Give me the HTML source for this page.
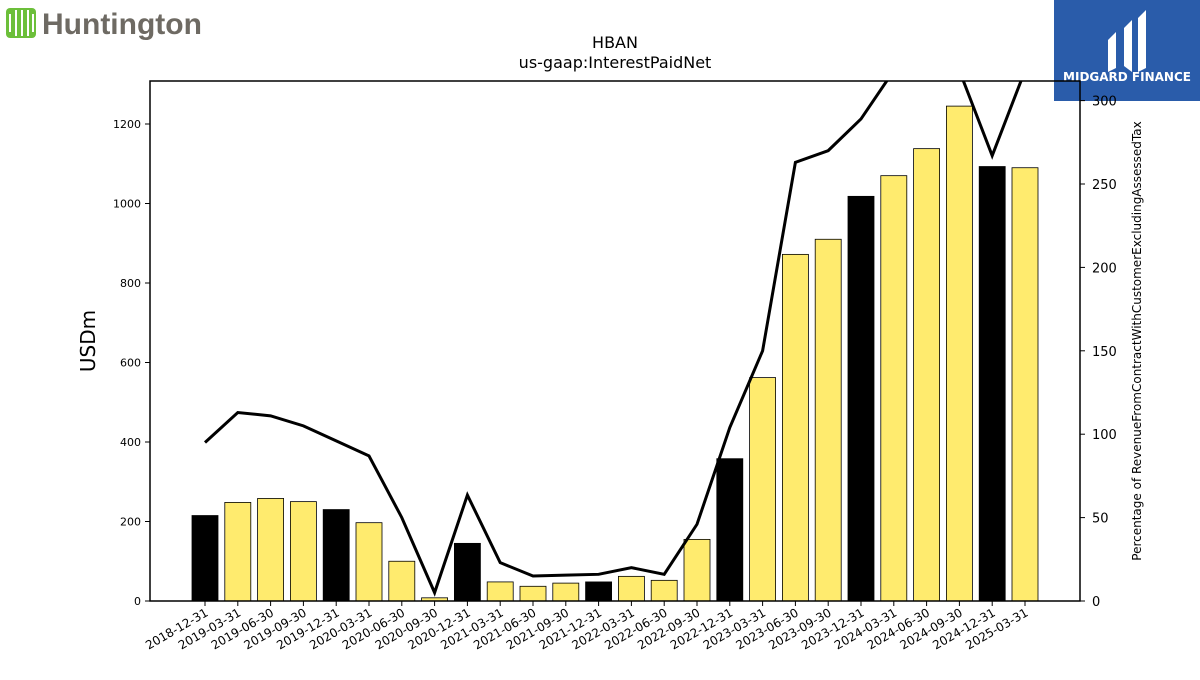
<!DOCTYPE html>
<html><head><meta charset="utf-8"><style>
body{margin:0;background:#fff;font-family:"Liberation Sans","DejaVu Sans",sans-serif}
svg text{font-family:"DejaVu Sans","Liberation Sans",sans-serif}
</style></head><body>
<svg id="c" width="1200" height="675" viewBox="0 0 1200 675" xmlns="http://www.w3.org/2000/svg">
<g>
<rect x="6" y="8" width="30" height="30" fill="#6cbf3a" rx="4"/>
<path d="M10 14v18M16 10v26M22 10v26M28 10v26M33 14v18" stroke="#fff" stroke-width="2"/>
<text x="42" y="34" font-size="30" font-weight="bold" fill="#6e6a63" style="font-family:'Liberation Sans Narrow','Liberation Sans',sans-serif">Huntington</text>
</g>
<g>
<rect x="1054" y="0" width="146" height="101" fill="#2a5caa"/>
<path d="M1108 40l8-8v36l-8 4z M1124 28l8-8v52l-8-6z M1138 18l8-8v58l-8 4z" fill="#fff"/>
<text x="1127" y="81" font-size="12" font-weight="bold" fill="#fff" text-anchor="middle">MIDGARD FINANCE</text>
</g>
<text x="615" y="48" font-size="16" text-anchor="middle">HBAN</text>
<text x="615" y="68" font-size="16" text-anchor="middle">us-gaap:InterestPaidNet</text>
<g id="plot"></g>
</svg>
<script>
const categories=["2018-12-31","2019-03-31","2019-06-30","2019-09-30","2019-12-31","2020-03-31","2020-06-30","2020-09-30","2020-12-31","2021-03-31","2021-06-30","2021-09-30","2021-12-31","2022-03-31","2022-06-30","2022-09-30","2022-12-31","2023-03-31","2023-06-30","2023-09-30","2023-12-31","2024-03-31","2024-06-30","2024-09-30","2024-12-31","2025-03-31"];
const barValues=[215,248,258,250,230,197,100,8,145,48,37,45,48,62,52,155,358,562,872,910,1018,1070,1138,1245,1093,1090];
const lineValues=[95,113,111,105,96,87,50,5,63.5,23,15,15.5,16,20,16,46,104,150,263,270,289,318,324,318,267,318];
const leftTicks=[0,200,400,600,800,1000,1200];
const rightTicks=[0,50,100,150,200,250,300];
const NS="http://www.w3.org/2000/svg";
const L=150,R=1080,T=81,B=601;
const yL=v=>B-v*(B-124)/1200;
const yR=v=>B-v*(B-100.6)/300;
const x=i=>205+i*(1025-205)/(categories.length-1);
const g=document.getElementById('plot');
function mk(t,a,p){const e=document.createElementNS(NS,t);for(const k in a)e.setAttribute(k,a[k]);(p||g).appendChild(e);return e;}
const defs=mk('defs',{});const cp=mk('clipPath',{id:'clip'},defs);mk('rect',{x:L,y:T,width:R-L,height:B-T},cp);
barValues.forEach((v,i)=>{const black=categories[i].endsWith('12-31');
const r=mk('rect',{x:x(i)-13,y:yL(v),width:26,height:B-yL(v),fill:black?'#000':'#ffeb6e',stroke:'#000','stroke-width':0.8});

});
const pl=mk('polyline',{points:lineValues.map((v,i)=>x(i)+','+yR(v)).join(' '),fill:'none',stroke:'#000','stroke-width':3,'clip-path':'url(#clip)'});


const fr=mk('rect',{x:L,y:T,width:R-L,height:B-T,fill:'none',stroke:'#000','stroke-width':1.5});


leftTicks.forEach(v=>{mk('line',{x1:L-5,x2:L,y1:yL(v),y2:yL(v),stroke:'#000'});
const t=mk('text',{x:L-9,y:yL(v)+4,'font-size':11,'text-anchor':'end'});t.textContent=v;

});
rightTicks.forEach(v=>{mk('line',{x1:R,x2:R+5,y1:yR(v),y2:yR(v),stroke:'#000'});
const t=mk('text',{x:R+12,y:yR(v)+5,'font-size':13});t.textContent=v;

});
categories.forEach((c,i)=>{mk('line',{x1:x(i),x2:x(i),y1:B,y2:B+5,stroke:'#000'});
const t=mk('text',{x:x(i)+4,y:B+14,'font-size':12,'text-anchor':'end',transform:`rotate(-30 ${x(i)+4} ${B+14})`});t.textContent=c;

});
const yt=mk('text',{x:95,y:341,'font-size':20,'text-anchor':'middle',transform:'rotate(-90 95 341)'});yt.textContent='USDm';


const rt=mk('text',{x:1141,y:341,'font-size':12,'text-anchor':'middle',transform:'rotate(-90 1141 341)'});rt.textContent='Percentage of RevenueFromContractWithCustomerExcludingAssessedTax';


</script>
</body></html>
